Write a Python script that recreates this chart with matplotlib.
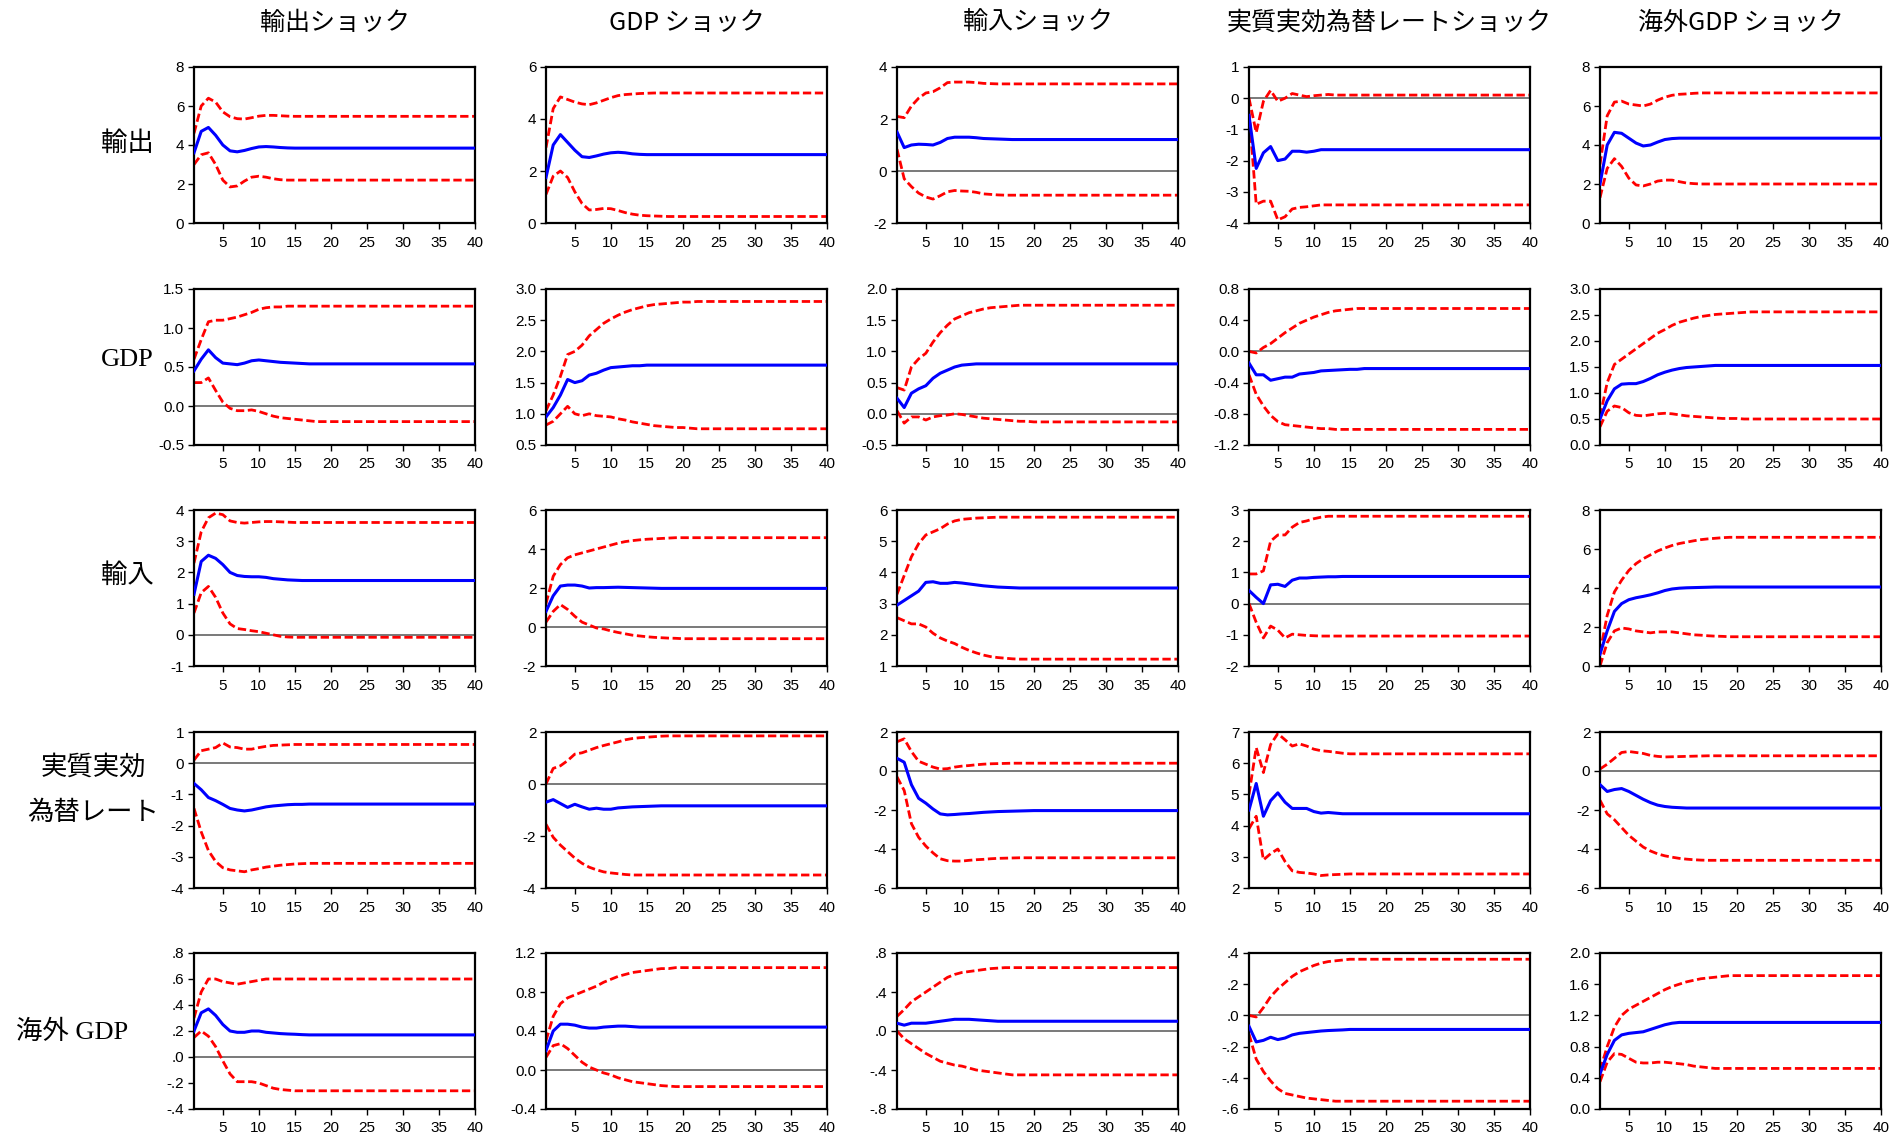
import matplotlib
matplotlib.use("Agg")
import matplotlib.pyplot as plt
import numpy as np

plt.rcParams['font.family'] = ['Noto Sans CJK JP', 'DejaVu Sans']

horizon = np.arange(1, 41)
shock_titles = ["輸出ショック", "GDP ショック", "輸入ショック", "実質実効為替レートショック", "海外GDP ショック"]
resp_labels = ["輸出", "GDP", "輸入", "実質実効\n為替レート", "海外 GDP"]

# ---- 輸出 response ----
ex_ex_mid = [3.6, 4.7, 4.9, 4.5, 4.0, 3.7, 3.65, 3.72, 3.82, 3.9,
             3.92, 3.9, 3.87, 3.85, 3.84, 3.84, 3.84, 3.84, 3.84, 3.84,
             3.84, 3.84, 3.84, 3.84, 3.84, 3.84, 3.84, 3.84, 3.84, 3.84,
             3.84, 3.84, 3.84, 3.84, 3.84, 3.84, 3.84, 3.84, 3.84, 3.84]
ex_ex_hi = [4.6, 6.0, 6.4, 6.2, 5.7, 5.45, 5.35, 5.33, 5.4, 5.48,
            5.52, 5.52, 5.5, 5.48, 5.47, 5.47, 5.47, 5.47, 5.47, 5.47,
            5.47, 5.47, 5.47, 5.47, 5.47, 5.47, 5.47, 5.47, 5.47, 5.47,
            5.47, 5.47, 5.47, 5.47, 5.47, 5.47, 5.47, 5.47, 5.47, 5.47]
ex_ex_lo = [3.0, 3.5, 3.6, 3.0, 2.2, 1.85, 1.9, 2.15, 2.35, 2.4,
            2.35, 2.27, 2.22, 2.2, 2.2, 2.2, 2.2, 2.2, 2.2, 2.2,
            2.2, 2.2, 2.2, 2.2, 2.2, 2.2, 2.2, 2.2, 2.2, 2.2,
            2.2, 2.2, 2.2, 2.2, 2.2, 2.2, 2.2, 2.2, 2.2, 2.2]
ex_ex_ticks = ["0", "2", "4", "6", "8"]

ex_gdp_mid = [1.75, 3.0, 3.4, 3.1, 2.8, 2.55, 2.52, 2.58, 2.65, 2.7,
              2.72, 2.7, 2.66, 2.64, 2.63, 2.63, 2.63, 2.63, 2.63, 2.63,
              2.63, 2.63, 2.63, 2.63, 2.63, 2.63, 2.63, 2.63, 2.63, 2.63,
              2.63, 2.63, 2.63, 2.63, 2.63, 2.63, 2.63, 2.63, 2.63, 2.63]
ex_gdp_hi = [2.9, 4.4, 4.85, 4.75, 4.65, 4.58, 4.55, 4.62, 4.72, 4.82,
             4.9, 4.94, 4.96, 4.98, 4.99, 5.0, 5.0, 5.0, 5.0, 5.0,
             5.0, 5.0, 5.0, 5.0, 5.0, 5.0, 5.0, 5.0, 5.0, 5.0,
             5.0, 5.0, 5.0, 5.0, 5.0, 5.0, 5.0, 5.0, 5.0, 5.0]
ex_gdp_lo = [1.1, 1.8, 2.0, 1.75, 1.2, 0.75, 0.5, 0.52, 0.56, 0.55,
             0.48, 0.4, 0.34, 0.3, 0.28, 0.27, 0.26, 0.25, 0.25, 0.25,
             0.25, 0.25, 0.25, 0.25, 0.25, 0.25, 0.25, 0.25, 0.25, 0.25,
             0.25, 0.25, 0.25, 0.25, 0.25, 0.25, 0.25, 0.25, 0.25, 0.25]
ex_gdp_ticks = ["0", "2", "4", "6"]

ex_im_mid = [1.5, 0.9, 1.0, 1.03, 1.02, 1.0, 1.1, 1.25, 1.3, 1.3,
             1.3, 1.28, 1.25, 1.24, 1.23, 1.22, 1.21, 1.21, 1.21, 1.21,
             1.21, 1.21, 1.21, 1.21, 1.21, 1.21, 1.21, 1.21, 1.21, 1.21,
             1.21, 1.21, 1.21, 1.21, 1.21, 1.21, 1.21, 1.21, 1.21, 1.21]
ex_im_hi = [2.1, 2.05, 2.5, 2.8, 3.0, 3.05, 3.2, 3.4, 3.42, 3.42,
            3.42, 3.4, 3.37, 3.36, 3.35, 3.35, 3.35, 3.35, 3.35, 3.35,
            3.35, 3.35, 3.35, 3.35, 3.35, 3.35, 3.35, 3.35, 3.35, 3.35,
            3.35, 3.35, 3.35, 3.35, 3.35, 3.35, 3.35, 3.35, 3.35, 3.35]
ex_im_lo = [0.84, -0.3, -0.6, -0.85, -1.0, -1.08, -0.95, -0.8, -0.75, -0.77,
            -0.78, -0.82, -0.88, -0.9, -0.92, -0.93, -0.93, -0.93, -0.93, -0.93,
            -0.93, -0.93, -0.93, -0.93, -0.93, -0.93, -0.93, -0.93, -0.93, -0.93,
            -0.93, -0.93, -0.93, -0.93, -0.93, -0.93, -0.93, -0.93, -0.93, -0.93]
ex_im_ticks = ["-2", "0", "2", "4"]

ex_reer_mid = [-0.55, -2.25, -1.75, -1.55, -2.0, -1.95, -1.7, -1.7, -1.73, -1.7,
               -1.65, -1.65, -1.65, -1.65, -1.65, -1.65, -1.65, -1.65, -1.65, -1.65,
               -1.65, -1.65, -1.65, -1.65, -1.65, -1.65, -1.65, -1.65, -1.65, -1.65,
               -1.65, -1.65, -1.65, -1.65, -1.65, -1.65, -1.65, -1.65, -1.65, -1.65]
ex_reer_hi = [0.0, -1.1, -0.1, 0.25, -0.1, 0.0, 0.15, 0.1, 0.05, 0.08,
              0.1, 0.12, 0.1, 0.1, 0.1, 0.1, 0.1, 0.1, 0.1, 0.1,
              0.1, 0.1, 0.1, 0.1, 0.1, 0.1, 0.1, 0.1, 0.1, 0.1,
              0.1, 0.1, 0.1, 0.1, 0.1, 0.1, 0.1, 0.1, 0.1, 0.1]
ex_reer_lo = [-0.4, -3.4, -3.3, -3.3, -3.9, -3.8, -3.55, -3.5, -3.48, -3.45,
              -3.42, -3.42, -3.42, -3.42, -3.42, -3.42, -3.42, -3.42, -3.42, -3.42,
              -3.42, -3.42, -3.42, -3.42, -3.42, -3.42, -3.42, -3.42, -3.42, -3.42,
              -3.42, -3.42, -3.42, -3.42, -3.42, -3.42, -3.42, -3.42, -3.42, -3.42]
ex_reer_ticks = ["-4", "-3", "-2", "-1", "0", "1"]

ex_fgdp_mid = [2.0, 4.0, 4.65, 4.6, 4.35, 4.1, 3.95, 4.0, 4.15, 4.28,
               4.33, 4.35, 4.35, 4.35, 4.35, 4.35, 4.35, 4.35, 4.35, 4.35,
               4.35, 4.35, 4.35, 4.35, 4.35, 4.35, 4.35, 4.35, 4.35, 4.35,
               4.35, 4.35, 4.35, 4.35, 4.35, 4.35, 4.35, 4.35, 4.35, 4.35]
ex_fgdp_hi = [3.0, 5.5, 6.2, 6.25, 6.1, 6.05, 6.0, 6.1, 6.3, 6.45,
              6.55, 6.6, 6.62, 6.65, 6.67, 6.67, 6.67, 6.67, 6.67, 6.67,
              6.67, 6.67, 6.67, 6.67, 6.67, 6.67, 6.67, 6.67, 6.67, 6.67,
              6.67, 6.67, 6.67, 6.67, 6.67, 6.67, 6.67, 6.67, 6.67, 6.67]
ex_fgdp_lo = [1.3, 2.8, 3.3, 2.9, 2.3, 1.95, 1.9, 2.0, 2.15, 2.2,
              2.2, 2.12, 2.05, 2.02, 2.0, 2.0, 2.0, 2.0, 2.0, 2.0,
              2.0, 2.0, 2.0, 2.0, 2.0, 2.0, 2.0, 2.0, 2.0, 2.0,
              2.0, 2.0, 2.0, 2.0, 2.0, 2.0, 2.0, 2.0, 2.0, 2.0]
ex_fgdp_ticks = ["0", "2", "4", "6", "8"]

# ---- GDP response ----
gdp_ex_mid = [0.45, 0.6, 0.72, 0.62, 0.55, 0.54, 0.53, 0.55, 0.58, 0.59,
              0.58, 0.57, 0.56, 0.555, 0.55, 0.545, 0.54, 0.54, 0.54, 0.54,
              0.54, 0.54, 0.54, 0.54, 0.54, 0.54, 0.54, 0.54, 0.54, 0.54,
              0.54, 0.54, 0.54, 0.54, 0.54, 0.54, 0.54, 0.54, 0.54, 0.54]
gdp_ex_hi = [0.6, 0.85, 1.08, 1.1, 1.1, 1.12, 1.14, 1.17, 1.2, 1.24,
             1.26, 1.27, 1.27, 1.28, 1.28, 1.28, 1.28, 1.28, 1.28, 1.28,
             1.28, 1.28, 1.28, 1.28, 1.28, 1.28, 1.28, 1.28, 1.28, 1.28,
             1.28, 1.28, 1.28, 1.28, 1.28, 1.28, 1.28, 1.28, 1.28, 1.28]
gdp_ex_lo = [0.3, 0.3, 0.36, 0.2, 0.05, -0.03, -0.06, -0.06, -0.05, -0.07,
             -0.1, -0.13, -0.15, -0.16, -0.17, -0.18, -0.19, -0.2, -0.2, -0.2,
             -0.2, -0.2, -0.2, -0.2, -0.2, -0.2, -0.2, -0.2, -0.2, -0.2,
             -0.2, -0.2, -0.2, -0.2, -0.2, -0.2, -0.2, -0.2, -0.2, -0.2]
gdp_ex_ticks = ["-0.5", "0.0", "0.5", "1.0", "1.5"]

gdp_gdp_mid = [0.95, 1.1, 1.3, 1.55, 1.5, 1.53, 1.62, 1.65, 1.7, 1.74,
               1.75, 1.76, 1.77, 1.77, 1.78, 1.78, 1.78, 1.78, 1.78, 1.78,
               1.78, 1.78, 1.78, 1.78, 1.78, 1.78, 1.78, 1.78, 1.78, 1.78,
               1.78, 1.78, 1.78, 1.78, 1.78, 1.78, 1.78, 1.78, 1.78, 1.78]
gdp_gdp_hi = [1.05, 1.3, 1.6, 1.95, 2.0, 2.1, 2.25, 2.35, 2.45, 2.52,
              2.58, 2.63, 2.67, 2.7, 2.73, 2.75, 2.76, 2.77, 2.78, 2.79,
              2.79, 2.8, 2.8, 2.8, 2.8, 2.8, 2.8, 2.8, 2.8, 2.8,
              2.8, 2.8, 2.8, 2.8, 2.8, 2.8, 2.8, 2.8, 2.8, 2.8]
gdp_gdp_lo = [0.82, 0.88, 1.0, 1.12, 1.0, 0.97, 1.0, 0.97, 0.96, 0.95,
              0.92, 0.9, 0.87, 0.85, 0.83, 0.81, 0.8, 0.79, 0.78, 0.78,
              0.77, 0.76, 0.76, 0.76, 0.76, 0.76, 0.76, 0.76, 0.76, 0.76,
              0.76, 0.76, 0.76, 0.76, 0.76, 0.76, 0.76, 0.76, 0.76, 0.76]
gdp_gdp_ticks = ["0.5", "1.0", "1.5", "2.0", "2.5", "3.0"]

gdp_im_mid = [0.25, 0.1, 0.33, 0.4, 0.45, 0.57, 0.65, 0.7, 0.75, 0.78,
              0.79, 0.8, 0.8, 0.8, 0.8, 0.8, 0.8, 0.8, 0.8, 0.8,
              0.8, 0.8, 0.8, 0.8, 0.8, 0.8, 0.8, 0.8, 0.8, 0.8,
              0.8, 0.8, 0.8, 0.8, 0.8, 0.8, 0.8, 0.8, 0.8, 0.8]
gdp_im_hi = [0.42, 0.38, 0.75, 0.88, 0.97, 1.15, 1.3, 1.42, 1.52, 1.57,
             1.62, 1.65, 1.68, 1.7, 1.71, 1.72, 1.73, 1.74, 1.74, 1.74,
             1.74, 1.74, 1.74, 1.74, 1.74, 1.74, 1.74, 1.74, 1.74, 1.74,
             1.74, 1.74, 1.74, 1.74, 1.74, 1.74, 1.74, 1.74, 1.74, 1.74]
gdp_im_lo = [0.05, -0.15, -0.05, -0.05, -0.1, -0.05, -0.03, -0.02, 0.0, -0.01,
             -0.03, -0.05, -0.07, -0.08, -0.09, -0.1, -0.11, -0.12, -0.12, -0.13,
             -0.13, -0.13, -0.13, -0.13, -0.13, -0.13, -0.13, -0.13, -0.13, -0.13,
             -0.13, -0.13, -0.13, -0.13, -0.13, -0.13, -0.13, -0.13, -0.13, -0.13]
gdp_im_ticks = ["-0.5", "0.0", "0.5", "1.0", "1.5", "2.0"]

gdp_reer_mid = [-0.15, -0.3, -0.3, -0.37, -0.35, -0.33, -0.33, -0.29, -0.28, -0.27,
                -0.25, -0.245, -0.24, -0.235, -0.23, -0.23, -0.22, -0.22, -0.22, -0.22,
                -0.22, -0.22, -0.22, -0.22, -0.22, -0.22, -0.22, -0.22, -0.22, -0.22,
                -0.22, -0.22, -0.22, -0.22, -0.22, -0.22, -0.22, -0.22, -0.22, -0.22]
gdp_reer_hi = [0.0, -0.02, 0.05, 0.1, 0.17, 0.24, 0.3, 0.36, 0.4, 0.44,
               0.47, 0.5, 0.52, 0.53, 0.54, 0.55, 0.55, 0.55, 0.55, 0.55,
               0.55, 0.55, 0.55, 0.55, 0.55, 0.55, 0.55, 0.55, 0.55, 0.55,
               0.55, 0.55, 0.55, 0.55, 0.55, 0.55, 0.55, 0.55, 0.55, 0.55]
gdp_reer_lo = [-0.3, -0.55, -0.7, -0.82, -0.9, -0.94, -0.95, -0.96, -0.97, -0.98,
               -0.99, -0.99, -1.0, -1.0, -1.0, -1.0, -1.0, -1.0, -1.0, -1.0,
               -1.0, -1.0, -1.0, -1.0, -1.0, -1.0, -1.0, -1.0, -1.0, -1.0,
               -1.0, -1.0, -1.0, -1.0, -1.0, -1.0, -1.0, -1.0, -1.0, -1.0]
gdp_reer_ticks = ["-1.2", "-0.8", "-0.4", "0.0", "0.4", "0.8"]

gdp_fgdp_mid = [0.5, 0.85, 1.08, 1.17, 1.18, 1.18, 1.22, 1.28, 1.35, 1.4,
                1.44, 1.47, 1.49, 1.5, 1.51, 1.52, 1.53, 1.53, 1.53, 1.53,
                1.53, 1.53, 1.53, 1.53, 1.53, 1.53, 1.53, 1.53, 1.53, 1.53,
                1.53, 1.53, 1.53, 1.53, 1.53, 1.53, 1.53, 1.53, 1.53, 1.53]
gdp_fgdp_hi = [0.55, 1.2, 1.55, 1.65, 1.75, 1.85, 1.95, 2.05, 2.15, 2.22,
               2.3, 2.36, 2.4, 2.44, 2.47, 2.49, 2.51, 2.52, 2.53, 2.54,
               2.55, 2.56, 2.56, 2.56, 2.56, 2.56, 2.56, 2.56, 2.56, 2.56,
               2.56, 2.56, 2.56, 2.56, 2.56, 2.56, 2.56, 2.56, 2.56, 2.56]
gdp_fgdp_lo = [0.35, 0.65, 0.75, 0.72, 0.62, 0.57, 0.56, 0.58, 0.6, 0.61,
               0.6, 0.58, 0.56, 0.55, 0.54, 0.53, 0.52, 0.51, 0.51, 0.51,
               0.5, 0.5, 0.5, 0.5, 0.5, 0.5, 0.5, 0.5, 0.5, 0.5,
               0.5, 0.5, 0.5, 0.5, 0.5, 0.5, 0.5, 0.5, 0.5, 0.5]
gdp_fgdp_ticks = ["0.0", "0.5", "1.0", "1.5", "2.0", "2.5", "3.0"]

# ---- 輸入 response ----
im_ex_mid = [1.3, 2.35, 2.55, 2.45, 2.25, 2.0, 1.9, 1.87, 1.86, 1.86,
             1.84, 1.8, 1.78, 1.76, 1.75, 1.74, 1.74, 1.74, 1.74, 1.74,
             1.74, 1.74, 1.74, 1.74, 1.74, 1.74, 1.74, 1.74, 1.74, 1.74,
             1.74, 1.74, 1.74, 1.74, 1.74, 1.74, 1.74, 1.74, 1.74, 1.74]
im_ex_hi = [2.3, 3.3, 3.75, 3.9, 3.85, 3.65, 3.6, 3.58, 3.6, 3.62,
            3.63, 3.63, 3.62, 3.61, 3.6, 3.6, 3.6, 3.6, 3.6, 3.6,
            3.6, 3.6, 3.6, 3.6, 3.6, 3.6, 3.6, 3.6, 3.6, 3.6,
            3.6, 3.6, 3.6, 3.6, 3.6, 3.6, 3.6, 3.6, 3.6, 3.6]
im_ex_lo = [0.7, 1.35, 1.55, 1.2, 0.7, 0.35, 0.2, 0.17, 0.13, 0.1,
            0.05, 0.0, -0.05, -0.07, -0.08, -0.08, -0.08, -0.08, -0.08, -0.08,
            -0.08, -0.08, -0.08, -0.08, -0.08, -0.08, -0.08, -0.08, -0.08, -0.08,
            -0.08, -0.08, -0.08, -0.08, -0.08, -0.08, -0.08, -0.08, -0.08, -0.08]
im_ex_ticks = ["-1", "0", "1", "2", "3", "4"]

im_gdp_mid = [0.8, 1.6, 2.1, 2.15, 2.15, 2.1, 2.0, 2.02, 2.02, 2.03,
              2.04, 2.03, 2.02, 2.01, 2.0, 1.99, 1.98, 1.98, 1.98, 1.98,
              1.98, 1.98, 1.98, 1.98, 1.98, 1.98, 1.98, 1.98, 1.98, 1.98,
              1.98, 1.98, 1.98, 1.98, 1.98, 1.98, 1.98, 1.98, 1.98, 1.98]
im_gdp_hi = [1.2, 2.6, 3.2, 3.55, 3.7, 3.8, 3.9, 4.0, 4.1, 4.2,
             4.3, 4.38, 4.43, 4.47, 4.5, 4.52, 4.54, 4.56, 4.58, 4.58,
             4.58, 4.58, 4.58, 4.58, 4.58, 4.58, 4.58, 4.58, 4.58, 4.58,
             4.58, 4.58, 4.58, 4.58, 4.58, 4.58, 4.58, 4.58, 4.58, 4.58]
im_gdp_lo = [0.25, 0.8, 1.15, 0.9, 0.55, 0.25, 0.1, -0.05, -0.1, -0.2,
             -0.28, -0.35, -0.42, -0.46, -0.5, -0.53, -0.55, -0.57, -0.58, -0.6,
             -0.6, -0.6, -0.6, -0.6, -0.6, -0.6, -0.6, -0.6, -0.6, -0.6,
             -0.6, -0.6, -0.6, -0.6, -0.6, -0.6, -0.6, -0.6, -0.6, -0.6]
im_gdp_ticks = ["-2", "0", "2", "4", "6"]

im_im_mid = [2.95, 3.1, 3.25, 3.4, 3.68, 3.7, 3.65, 3.65, 3.68, 3.66,
             3.63, 3.6, 3.57, 3.55, 3.53, 3.52, 3.51, 3.5, 3.5, 3.5,
             3.5, 3.5, 3.5, 3.5, 3.5, 3.5, 3.5, 3.5, 3.5, 3.5,
             3.5, 3.5, 3.5, 3.5, 3.5, 3.5, 3.5, 3.5, 3.5, 3.5]
im_im_hi = [3.3, 3.9, 4.5, 4.92, 5.2, 5.3, 5.4, 5.55, 5.65, 5.7,
            5.72, 5.74, 5.75, 5.76, 5.77, 5.77, 5.77, 5.77, 5.77, 5.77,
            5.77, 5.77, 5.77, 5.77, 5.77, 5.77, 5.77, 5.77, 5.77, 5.77,
            5.77, 5.77, 5.77, 5.77, 5.77, 5.77, 5.77, 5.77, 5.77, 5.77]
im_im_lo = [2.55, 2.45, 2.35, 2.35, 2.25, 2.05, 1.9, 1.8, 1.72, 1.6,
            1.5, 1.42, 1.35, 1.3, 1.27, 1.25, 1.23, 1.22, 1.22, 1.22,
            1.22, 1.22, 1.22, 1.22, 1.22, 1.22, 1.22, 1.22, 1.22, 1.22,
            1.22, 1.22, 1.22, 1.22, 1.22, 1.22, 1.22, 1.22, 1.22, 1.22]
im_im_ticks = ["1", "2", "3", "4", "5", "6"]

im_reer_mid = [0.42, 0.2, 0.0, 0.6, 0.62, 0.55, 0.75, 0.82, 0.82, 0.84,
               0.85, 0.86, 0.86, 0.87, 0.87, 0.87, 0.87, 0.87, 0.87, 0.87,
               0.87, 0.87, 0.87, 0.87, 0.87, 0.87, 0.87, 0.87, 0.87, 0.87,
               0.87, 0.87, 0.87, 0.87, 0.87, 0.87, 0.87, 0.87, 0.87, 0.87]
im_reer_hi = [0.95, 0.95, 1.05, 2.0, 2.2, 2.2, 2.45, 2.6, 2.65, 2.72,
              2.77, 2.8, 2.8, 2.8, 2.8, 2.8, 2.8, 2.8, 2.8, 2.8,
              2.8, 2.8, 2.8, 2.8, 2.8, 2.8, 2.8, 2.8, 2.8, 2.8,
              2.8, 2.8, 2.8, 2.8, 2.8, 2.8, 2.8, 2.8, 2.8, 2.8]
im_reer_lo = [0.0, -0.6, -1.1, -0.72, -0.85, -1.1, -0.98, -1.0, -1.02, -1.03,
              -1.04, -1.04, -1.04, -1.04, -1.04, -1.04, -1.04, -1.04, -1.04, -1.04,
              -1.04, -1.04, -1.04, -1.04, -1.04, -1.04, -1.04, -1.04, -1.04, -1.04,
              -1.04, -1.04, -1.04, -1.04, -1.04, -1.04, -1.04, -1.04, -1.04, -1.04]
im_reer_ticks = ["-2", "-1", "0", "1", "2", "3"]

im_fgdp_mid = [0.6, 1.8, 2.8, 3.2, 3.4, 3.5, 3.57, 3.65, 3.75, 3.87,
               3.95, 3.99, 4.01, 4.02, 4.03, 4.04, 4.05, 4.05, 4.05, 4.05,
               4.05, 4.05, 4.05, 4.05, 4.05, 4.05, 4.05, 4.05, 4.05, 4.05,
               4.05, 4.05, 4.05, 4.05, 4.05, 4.05, 4.05, 4.05, 4.05, 4.05]
im_fgdp_hi = [0.7, 2.6, 3.8, 4.4, 4.9, 5.25, 5.5, 5.7, 5.9, 6.05,
              6.18, 6.28, 6.35, 6.42, 6.48, 6.52, 6.55, 6.58, 6.6, 6.6,
              6.6, 6.6, 6.6, 6.6, 6.6, 6.6, 6.6, 6.6, 6.6, 6.6,
              6.6, 6.6, 6.6, 6.6, 6.6, 6.6, 6.6, 6.6, 6.6, 6.6]
im_fgdp_lo = [0.0, 1.2, 1.8, 1.95, 1.9, 1.8, 1.75, 1.7, 1.75, 1.75,
              1.75, 1.7, 1.65, 1.6, 1.58, 1.55, 1.53, 1.52, 1.5, 1.5,
              1.5, 1.5, 1.5, 1.5, 1.5, 1.5, 1.5, 1.5, 1.5, 1.5,
              1.5, 1.5, 1.5, 1.5, 1.5, 1.5, 1.5, 1.5, 1.5, 1.5]
im_fgdp_ticks = ["0", "2", "4", "6", "8"]

# ---- 実質実効為替レート response ----
reer_ex_mid = [-0.65, -0.85, -1.1, -1.2, -1.32, -1.45, -1.5, -1.53, -1.5, -1.45,
               -1.4, -1.37, -1.35, -1.33, -1.32, -1.32, -1.31, -1.31, -1.31, -1.31,
               -1.31, -1.31, -1.31, -1.31, -1.31, -1.31, -1.31, -1.31, -1.31, -1.31,
               -1.31, -1.31, -1.31, -1.31, -1.31, -1.31, -1.31, -1.31, -1.31, -1.31]
reer_ex_hi = [0.1, 0.4, 0.45, 0.5, 0.65, 0.52, 0.5, 0.45, 0.45, 0.5,
              0.54, 0.57, 0.58, 0.59, 0.6, 0.6, 0.6, 0.6, 0.6, 0.6,
              0.6, 0.6, 0.6, 0.6, 0.6, 0.6, 0.6, 0.6, 0.6, 0.6,
              0.6, 0.6, 0.6, 0.6, 0.6, 0.6, 0.6, 0.6, 0.6, 0.6]
reer_ex_lo = [-1.45, -2.2, -2.8, -3.15, -3.35, -3.42, -3.45, -3.48, -3.42, -3.38,
              -3.33, -3.3, -3.27, -3.25, -3.23, -3.22, -3.21, -3.21, -3.21, -3.21,
              -3.21, -3.21, -3.21, -3.21, -3.21, -3.21, -3.21, -3.21, -3.21, -3.21,
              -3.21, -3.21, -3.21, -3.21, -3.21, -3.21, -3.21, -3.21, -3.21, -3.21]
reer_ex_ticks = ["-4", "-3", "-2", "-1", "0", "1"]

reer_gdp_mid = [-0.7, -0.6, -0.75, -0.9, -0.78, -0.88, -0.97, -0.93, -0.97, -0.97,
                -0.92, -0.9, -0.88, -0.87, -0.86, -0.85, -0.84, -0.84, -0.84, -0.84,
                -0.84, -0.84, -0.84, -0.84, -0.84, -0.84, -0.84, -0.84, -0.84, -0.84,
                -0.84, -0.84, -0.84, -0.84, -0.84, -0.84, -0.84, -0.84, -0.84, -0.84]
reer_gdp_hi = [0.0, 0.6, 0.7, 0.9, 1.15, 1.2, 1.3, 1.4, 1.48, 1.55,
               1.62, 1.7, 1.75, 1.78, 1.8, 1.82, 1.84, 1.85, 1.85, 1.85,
               1.85, 1.85, 1.85, 1.85, 1.85, 1.85, 1.85, 1.85, 1.85, 1.85,
               1.85, 1.85, 1.85, 1.85, 1.85, 1.85, 1.85, 1.85, 1.85, 1.85]
reer_gdp_lo = [-1.55, -2.05, -2.35, -2.6, -2.85, -3.05, -3.2, -3.3, -3.38, -3.42,
               -3.45, -3.48, -3.5, -3.5, -3.5, -3.5, -3.5, -3.5, -3.5, -3.5,
               -3.5, -3.5, -3.5, -3.5, -3.5, -3.5, -3.5, -3.5, -3.5, -3.5,
               -3.5, -3.5, -3.5, -3.5, -3.5, -3.5, -3.5, -3.5, -3.5, -3.5]
reer_gdp_ticks = ["-4", "-2", "0", "2"]

reer_im_mid = [0.65, 0.45, -0.7, -1.4, -1.65, -1.95, -2.2, -2.25, -2.23, -2.2,
               -2.18, -2.15, -2.12, -2.1, -2.08, -2.07, -2.06, -2.05, -2.04, -2.03,
               -2.03, -2.03, -2.03, -2.03, -2.03, -2.03, -2.03, -2.03, -2.03, -2.03,
               -2.03, -2.03, -2.03, -2.03, -2.03, -2.03, -2.03, -2.03, -2.03, -2.03]
reer_im_hi = [1.5, 1.65, 1.0, 0.5, 0.35, 0.2, 0.1, 0.12, 0.2, 0.25,
              0.28, 0.32, 0.35, 0.37, 0.38, 0.39, 0.4, 0.4, 0.4, 0.4,
              0.4, 0.4, 0.4, 0.4, 0.4, 0.4, 0.4, 0.4, 0.4, 0.4,
              0.4, 0.4, 0.4, 0.4, 0.4, 0.4, 0.4, 0.4, 0.4, 0.4]
reer_im_lo = [-0.3, -1.0, -2.7, -3.4, -3.85, -4.2, -4.5, -4.6, -4.62, -4.62,
              -4.58, -4.55, -4.53, -4.5, -4.48, -4.47, -4.46, -4.45, -4.45, -4.45,
              -4.45, -4.45, -4.45, -4.45, -4.45, -4.45, -4.45, -4.45, -4.45, -4.45,
              -4.45, -4.45, -4.45, -4.45, -4.45, -4.45, -4.45, -4.45, -4.45, -4.45]
reer_im_ticks = ["-6", "-4", "-2", "0", "2"]

reer_reer_mid = [4.5, 5.35, 4.3, 4.8, 5.05, 4.75, 4.55, 4.55, 4.55, 4.45,
                 4.4, 4.42, 4.4, 4.38, 4.38, 4.38, 4.38, 4.38, 4.38, 4.38,
                 4.38, 4.38, 4.38, 4.38, 4.38, 4.38, 4.38, 4.38, 4.38, 4.38,
                 4.38, 4.38, 4.38, 4.38, 4.38, 4.38, 4.38, 4.38, 4.38, 4.38]
reer_reer_hi = [5.0, 6.5, 5.7, 6.6, 6.95, 6.75, 6.55, 6.62, 6.55, 6.45,
                6.4, 6.38, 6.35, 6.32, 6.3, 6.3, 6.3, 6.3, 6.3, 6.3,
                6.3, 6.3, 6.3, 6.3, 6.3, 6.3, 6.3, 6.3, 6.3, 6.3,
                6.3, 6.3, 6.3, 6.3, 6.3, 6.3, 6.3, 6.3, 6.3, 6.3]
reer_reer_lo = [3.9, 4.3, 2.9, 3.1, 3.25, 2.85, 2.55, 2.5, 2.48, 2.45,
                2.4, 2.42, 2.43, 2.44, 2.45, 2.45, 2.45, 2.45, 2.45, 2.45,
                2.45, 2.45, 2.45, 2.45, 2.45, 2.45, 2.45, 2.45, 2.45, 2.45,
                2.45, 2.45, 2.45, 2.45, 2.45, 2.45, 2.45, 2.45, 2.45, 2.45]
reer_reer_ticks = ["2", "3", "4", "5", "6", "7"]

reer_fgdp_mid = [-0.7, -1.05, -0.95, -0.9, -1.05, -1.25, -1.45, -1.62, -1.75, -1.82,
                 -1.86, -1.88, -1.9, -1.9, -1.9, -1.9, -1.9, -1.9, -1.9, -1.9,
                 -1.9, -1.9, -1.9, -1.9, -1.9, -1.9, -1.9, -1.9, -1.9, -1.9,
                 -1.9, -1.9, -1.9, -1.9, -1.9, -1.9, -1.9, -1.9, -1.9, -1.9]
reer_fgdp_hi = [0.1, 0.35, 0.65, 0.95, 1.0, 0.95, 0.9, 0.8, 0.75, 0.72,
                0.73, 0.74, 0.75, 0.76, 0.77, 0.78, 0.78, 0.78, 0.78, 0.78,
                0.78, 0.78, 0.78, 0.78, 0.78, 0.78, 0.78, 0.78, 0.78, 0.78,
                0.78, 0.78, 0.78, 0.78, 0.78, 0.78, 0.78, 0.78, 0.78, 0.78]
reer_fgdp_lo = [-1.5, -2.2, -2.5, -2.9, -3.3, -3.6, -3.9, -4.1, -4.25, -4.35,
                -4.42, -4.48, -4.52, -4.55, -4.57, -4.58, -4.58, -4.58, -4.58, -4.58,
                -4.58, -4.58, -4.58, -4.58, -4.58, -4.58, -4.58, -4.58, -4.58, -4.58,
                -4.58, -4.58, -4.58, -4.58, -4.58, -4.58, -4.58, -4.58, -4.58, -4.58]
reer_fgdp_ticks = ["-6", "-4", "-2", "0", "2"]

# ---- 海外GDP response ----
fgdp_ex_mid = [0.2, 0.34, 0.37, 0.32, 0.25, 0.2, 0.19, 0.19, 0.2, 0.2,
               0.19, 0.185, 0.18, 0.177, 0.175, 0.172, 0.17, 0.17, 0.17, 0.17,
               0.17, 0.17, 0.17, 0.17, 0.17, 0.17, 0.17, 0.17, 0.17, 0.17,
               0.17, 0.17, 0.17, 0.17, 0.17, 0.17, 0.17, 0.17, 0.17, 0.17]
fgdp_ex_hi = [0.3, 0.5, 0.6, 0.6, 0.58, 0.57, 0.56, 0.57, 0.58, 0.59,
              0.6, 0.6, 0.6, 0.6, 0.6, 0.6, 0.6, 0.6, 0.6, 0.6,
              0.6, 0.6, 0.6, 0.6, 0.6, 0.6, 0.6, 0.6, 0.6, 0.6,
              0.6, 0.6, 0.6, 0.6, 0.6, 0.6, 0.6, 0.6, 0.6, 0.6]
fgdp_ex_lo = [0.15, 0.2, 0.16, 0.08, -0.03, -0.13, -0.19, -0.19, -0.19, -0.2,
              -0.22, -0.24, -0.25, -0.255, -0.26, -0.26, -0.26, -0.26, -0.26, -0.26,
              -0.26, -0.26, -0.26, -0.26, -0.26, -0.26, -0.26, -0.26, -0.26, -0.26,
              -0.26, -0.26, -0.26, -0.26, -0.26, -0.26, -0.26, -0.26, -0.26, -0.26]
fgdp_ex_ticks = ["-.4", "-.2", ".0", ".2", ".4", ".6", ".8"]

fgdp_gdp_mid = [0.2, 0.4, 0.47, 0.47, 0.46, 0.44, 0.43, 0.43, 0.44, 0.445,
                0.45, 0.45, 0.445, 0.44, 0.44, 0.44, 0.44, 0.44, 0.44, 0.44,
                0.44, 0.44, 0.44, 0.44, 0.44, 0.44, 0.44, 0.44, 0.44, 0.44,
                0.44, 0.44, 0.44, 0.44, 0.44, 0.44, 0.44, 0.44, 0.44, 0.44]
fgdp_gdp_hi = [0.3, 0.55, 0.68, 0.74, 0.77, 0.8, 0.83, 0.86, 0.9, 0.93,
               0.96, 0.98, 1.0, 1.01, 1.02, 1.03, 1.04, 1.04, 1.05, 1.05,
               1.05, 1.05, 1.05, 1.05, 1.05, 1.05, 1.05, 1.05, 1.05, 1.05,
               1.05, 1.05, 1.05, 1.05, 1.05, 1.05, 1.05, 1.05, 1.05, 1.05]
fgdp_gdp_lo = [0.13, 0.25, 0.27, 0.22, 0.15, 0.08, 0.03, 0.0, -0.03, -0.05,
               -0.08, -0.1, -0.12, -0.13, -0.14, -0.15, -0.16, -0.165, -0.17, -0.17,
               -0.17, -0.17, -0.17, -0.17, -0.17, -0.17, -0.17, -0.17, -0.17, -0.17,
               -0.17, -0.17, -0.17, -0.17, -0.17, -0.17, -0.17, -0.17, -0.17, -0.17]
fgdp_gdp_ticks = ["-0.4", "0.0", "0.4", "0.8", "1.2"]

fgdp_im_mid = [0.08, 0.06, 0.08, 0.08, 0.08, 0.09, 0.1, 0.11, 0.12, 0.12,
               0.12, 0.115, 0.11, 0.105, 0.1, 0.1, 0.1, 0.1, 0.1, 0.1,
               0.1, 0.1, 0.1, 0.1, 0.1, 0.1, 0.1, 0.1, 0.1, 0.1,
               0.1, 0.1, 0.1, 0.1, 0.1, 0.1, 0.1, 0.1, 0.1, 0.1]
fgdp_im_hi = [0.15, 0.22, 0.3, 0.35, 0.4, 0.45, 0.5, 0.55, 0.58, 0.6,
              0.61, 0.62, 0.63, 0.64, 0.645, 0.65, 0.65, 0.65, 0.65, 0.65,
              0.65, 0.65, 0.65, 0.65, 0.65, 0.65, 0.65, 0.65, 0.65, 0.65,
              0.65, 0.65, 0.65, 0.65, 0.65, 0.65, 0.65, 0.65, 0.65, 0.65]
fgdp_im_lo = [0.0, -0.08, -0.13, -0.18, -0.23, -0.27, -0.31, -0.33, -0.35, -0.36,
              -0.38, -0.4, -0.41, -0.42, -0.43, -0.44, -0.45, -0.45, -0.45, -0.45,
              -0.45, -0.45, -0.45, -0.45, -0.45, -0.45, -0.45, -0.45, -0.45, -0.45,
              -0.45, -0.45, -0.45, -0.45, -0.45, -0.45, -0.45, -0.45, -0.45, -0.45]
fgdp_im_ticks = ["-.8", "-.4", ".0", ".4", ".8"]

fgdp_reer_mid = [-0.07, -0.17, -0.16, -0.14, -0.155, -0.145, -0.125, -0.115, -0.11, -0.105,
                 -0.1, -0.097, -0.095, -0.093, -0.09, -0.09, -0.09, -0.09, -0.09, -0.09,
                 -0.09, -0.09, -0.09, -0.09, -0.09, -0.09, -0.09, -0.09, -0.09, -0.09,
                 -0.09, -0.09, -0.09, -0.09, -0.09, -0.09, -0.09, -0.09, -0.09, -0.09]
fgdp_reer_hi = [0.0, -0.01, 0.05, 0.12, 0.17, 0.21, 0.25, 0.28, 0.3, 0.32,
                0.335, 0.345, 0.35, 0.355, 0.36, 0.36, 0.36, 0.36, 0.36, 0.36,
                0.36, 0.36, 0.36, 0.36, 0.36, 0.36, 0.36, 0.36, 0.36, 0.36,
                0.36, 0.36, 0.36, 0.36, 0.36, 0.36, 0.36, 0.36, 0.36, 0.36]
fgdp_reer_lo = [-0.12, -0.28, -0.36, -0.42, -0.47, -0.5, -0.51, -0.52, -0.53, -0.535,
                -0.54, -0.545, -0.55, -0.55, -0.55, -0.55, -0.55, -0.55, -0.55, -0.55,
                -0.55, -0.55, -0.55, -0.55, -0.55, -0.55, -0.55, -0.55, -0.55, -0.55,
                -0.55, -0.55, -0.55, -0.55, -0.55, -0.55, -0.55, -0.55, -0.55, -0.55]
fgdp_reer_ticks = ["-.6", "-.4", "-.2", ".0", ".2", ".4"]

fgdp_fgdp_mid = [0.45, 0.7, 0.88, 0.95, 0.97, 0.98, 0.99, 1.02, 1.05, 1.08,
                 1.1, 1.11, 1.11, 1.11, 1.11, 1.11, 1.11, 1.11, 1.11, 1.11,
                 1.11, 1.11, 1.11, 1.11, 1.11, 1.11, 1.11, 1.11, 1.11, 1.11,
                 1.11, 1.11, 1.11, 1.11, 1.11, 1.11, 1.11, 1.11, 1.11, 1.11]
fgdp_fgdp_hi = [0.5, 0.8, 1.05, 1.2, 1.28, 1.33, 1.38, 1.43, 1.48, 1.53,
                1.57, 1.6, 1.63, 1.65, 1.67, 1.68, 1.69, 1.7, 1.71, 1.71,
                1.71, 1.71, 1.71, 1.71, 1.71, 1.71, 1.71, 1.71, 1.71, 1.71,
                1.71, 1.71, 1.71, 1.71, 1.71, 1.71, 1.71, 1.71, 1.71, 1.71]
fgdp_fgdp_lo = [0.35, 0.6, 0.71, 0.7, 0.65, 0.6, 0.59, 0.59, 0.6, 0.6,
                0.59, 0.58, 0.57, 0.55, 0.54, 0.53, 0.52, 0.52, 0.52, 0.52,
                0.52, 0.52, 0.52, 0.52, 0.52, 0.52, 0.52, 0.52, 0.52, 0.52,
                0.52, 0.52, 0.52, 0.52, 0.52, 0.52, 0.52, 0.52, 0.52, 0.52]
fgdp_fgdp_ticks = ["0.0", "0.4", "0.8", "1.2", "1.6", "2.0"]

grid = [
    [(ex_ex_mid, ex_ex_hi, ex_ex_lo, ex_ex_ticks),
     (ex_gdp_mid, ex_gdp_hi, ex_gdp_lo, ex_gdp_ticks),
     (ex_im_mid, ex_im_hi, ex_im_lo, ex_im_ticks),
     (ex_reer_mid, ex_reer_hi, ex_reer_lo, ex_reer_ticks),
     (ex_fgdp_mid, ex_fgdp_hi, ex_fgdp_lo, ex_fgdp_ticks)],
    [(gdp_ex_mid, gdp_ex_hi, gdp_ex_lo, gdp_ex_ticks),
     (gdp_gdp_mid, gdp_gdp_hi, gdp_gdp_lo, gdp_gdp_ticks),
     (gdp_im_mid, gdp_im_hi, gdp_im_lo, gdp_im_ticks),
     (gdp_reer_mid, gdp_reer_hi, gdp_reer_lo, gdp_reer_ticks),
     (gdp_fgdp_mid, gdp_fgdp_hi, gdp_fgdp_lo, gdp_fgdp_ticks)],
    [(im_ex_mid, im_ex_hi, im_ex_lo, im_ex_ticks),
     (im_gdp_mid, im_gdp_hi, im_gdp_lo, im_gdp_ticks),
     (im_im_mid, im_im_hi, im_im_lo, im_im_ticks),
     (im_reer_mid, im_reer_hi, im_reer_lo, im_reer_ticks),
     (im_fgdp_mid, im_fgdp_hi, im_fgdp_lo, im_fgdp_ticks)],
    [(reer_ex_mid, reer_ex_hi, reer_ex_lo, reer_ex_ticks),
     (reer_gdp_mid, reer_gdp_hi, reer_gdp_lo, reer_gdp_ticks),
     (reer_im_mid, reer_im_hi, reer_im_lo, reer_im_ticks),
     (reer_reer_mid, reer_reer_hi, reer_reer_lo, reer_reer_ticks),
     (reer_fgdp_mid, reer_fgdp_hi, reer_fgdp_lo, reer_fgdp_ticks)],
    [(fgdp_ex_mid, fgdp_ex_hi, fgdp_ex_lo, fgdp_ex_ticks),
     (fgdp_gdp_mid, fgdp_gdp_hi, fgdp_gdp_lo, fgdp_gdp_ticks),
     (fgdp_im_mid, fgdp_im_hi, fgdp_im_lo, fgdp_im_ticks),
     (fgdp_reer_mid, fgdp_reer_hi, fgdp_reer_lo, fgdp_reer_ticks),
     (fgdp_fgdp_mid, fgdp_fgdp_hi, fgdp_fgdp_lo, fgdp_fgdp_ticks)],
]

W, H = 1901, 1140
fig = plt.figure(figsize=(W / 100, H / 100), dpi=100)

col_left = [194, 546, 897, 1249, 1600]   # px
row_top = [67, 289, 510, 732, 953]       # px
pw, ph = 281, 156

tick_font = dict(family='Liberation Sans', size=11)

for r in range(5):
    for c in range(5):
        mid, hi, lo, ticks = grid[r][c]
        assert len(mid) == len(hi) == len(lo) == 40, (r, c)
        ax = fig.add_axes([col_left[c] / W, 1 - (row_top[r] + ph) / H, pw / W, ph / H])
        yt = [float(t) for t in ticks]
        if yt[0] < 0 < yt[-1]:
            ax.axhline(0, color='#555555', lw=1.1, zorder=1)
        ax.plot(horizon, hi, color='#ff0000', lw=2.0, dashes=(3.0, 1.3), zorder=2)
        ax.plot(horizon, lo, color='#ff0000', lw=2.0, dashes=(3.0, 1.3), zorder=2)
        ax.plot(horizon, mid, color='#0000ff', lw=2.2, zorder=3)
        ax.set_xlim(1, 40)
        ax.set_ylim(yt[0], yt[-1])
        ax.set_xticks([5, 10, 15, 20, 25, 30, 35, 40])
        ax.set_xticklabels(["5", "10", "15", "20", "25", "30", "35", "40"], fontdict=tick_font)
        ax.set_yticks(yt)
        ax.set_yticklabels(ticks, fontdict=tick_font)
        ax.tick_params(direction='out', length=4, width=1, pad=3)
        ax.tick_params(axis='x', pad=5)
        for s in ax.spines.values():
            s.set_linewidth(1.6)
        if r == 0:
            fig.text((col_left[c] + pw / 2) / W, 1 - 23 / H, shock_titles[c],
                     ha='center', va='center', fontsize=18)

# row labels
fig.text(127 / W, 1 - 143 / H, resp_labels[0], ha='center', va='center', fontsize=19)
fig.text(127 / W, 1 - 360 / H, resp_labels[1], ha='center', va='center', fontsize=19,
         family=['Liberation Serif', 'Noto Sans CJK JP'])
fig.text(127 / W, 1 - 575 / H, resp_labels[2], ha='center', va='center', fontsize=19)
fig.text(93 / W, 1 - 790 / H, resp_labels[3], ha='center', va='center', fontsize=19,
         linespacing=1.9)
fig.text(72 / W, 1 - 1032 / H, resp_labels[4], ha='center', va='center', fontsize=19,
         family=['Liberation Serif', 'Noto Sans CJK JP'])

fig.savefig("out.png", dpi=100)
